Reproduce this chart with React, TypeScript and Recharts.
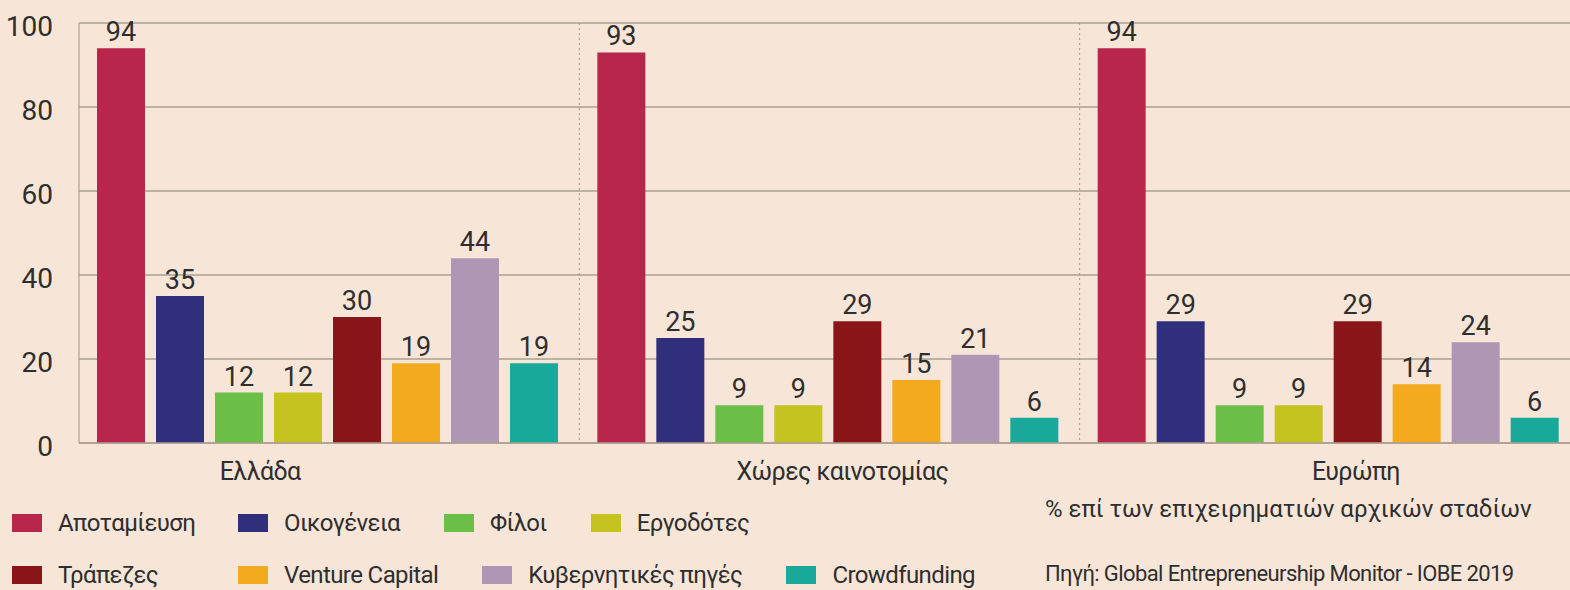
import React from "react";
import {
  BarChart,
  Bar,
  XAxis,
  YAxis,
  CartesianGrid,
  LabelList,
} from "recharts";

// regions compared
const categories = ["Ελλάδα", "Χώρες καινοτομίας", "Ευρώπη"];

// % of early-stage entrepreneurs, one array per funding source
const savings = [94, 93, 94];
const family = [35, 25, 29];
const friends = [12, 9, 9];
const employers = [12, 9, 9];
const banks = [30, 29, 29];
const ventureCapital = [19, 15, 14];
const government = [44, 21, 24];
const crowdfunding = [19, 6, 6];

const yTicks = [0, 20, 40, 60, 80, 100];

const series = [
  { key: "savings", name: "Αποταμίευση", values: savings, color: "#b8264b" },
  { key: "family", name: "Οικογένεια", values: family, color: "#2f2f7c" },
  { key: "friends", name: "Φίλοι", values: friends, color: "#6bbf46" },
  { key: "employers", name: "Εργοδότες", values: employers, color: "#c4c320" },
  { key: "banks", name: "Τράπεζες", values: banks, color: "#8a1519" },
  { key: "vc", name: "Venture Capital", values: ventureCapital, color: "#f4aa1e" },
  { key: "gov", name: "Κυβερνητικές πηγές", values: government, color: "#ad97b5" },
  { key: "crowd", name: "Crowdfunding", values: crowdfunding, color: "#18a99a" },
];

const rows = categories.map((name, i) => {
  const row: Record<string, string | number> = { name };
  series.forEach((s) => (row[s.key] = s.values[i]));
  return row;
});

const FONT = "Roboto, 'Liberation Sans', sans-serif";
const BG = "#f7e6d8";
const GRID = "#ad9f91";
const TEXT = "#2e2e2e";

// the category labels in the original are not centred under their groups
const labelShift: Record<string, number> = {
  "Ελλάδα": -69,
  "Χώρες καινοτομίας": 13,
  "Ευρώπη": 26,
};

function CategoryTick(props: any) {
  const { x, y, payload } = props;
  return (
    <text
      x={x + (labelShift[payload.value] ?? 0)}
      y={y}
      dy={29}
      textAnchor="middle"
      fill={TEXT}
      fontSize={25}
      fontFamily={FONT}
      letterSpacing={-0.6}
    >
      {payload.value}
    </text>
  );
}

function LegendItem({ name, color, first }: { name: string; color: string; first: boolean }) {
  return (
    <div
      style={{
        display: "flex",
        alignItems: "center",
        minWidth: first ? 226 : undefined,
        marginRight: first ? 0 : 44,
      }}
    >
      <span style={{ width: 30, height: 18, background: color, display: "inline-block", marginRight: 16 }} />
      <span>{name}</span>
    </div>
  );
}

export default function App() {
  const legendRows = [series.slice(0, 4), series.slice(4)];
  return (
    <div
      style={{
        position: "fixed",
        left: 0,
        top: 0,
        width: 1570,
        height: 590,
        overflow: "hidden",
        background: BG,
        fontFamily: FONT,
        color: TEXT,
      }}
    >
      <BarChart
        width={1580}
        height={590}
        data={rows}
        margin={{ top: 23, right: 0, left: 0, bottom: 117 }}
        barCategoryGap={18}
        barGap={11}
      >
        <CartesianGrid vertical={false} stroke={GRID} strokeWidth={1.6} />
        <CartesianGrid
          horizontal={false}
          stroke="#9c9690"
          strokeDasharray="2 3"
          verticalCoordinatesGenerator={({ offset }: any) =>
            categories.slice(1).map((_, i) => offset.left + (offset.width * (i + 1)) / categories.length)
          }
        />
        <XAxis
          dataKey="name"
          height={30}
          tickLine={false}
          axisLine={{ stroke: GRID, strokeWidth: 1.6 }}
          tick={<CategoryTick />}
          interval={0}
        />
        <YAxis
          width={79}
          domain={[0, 100]}
          ticks={yTicks}
          tickLine={false}
          axisLine={{ stroke: GRID, strokeWidth: 1.2 }}
          tickMargin={20}
          tick={{ fill: TEXT, fontSize: 28, fontFamily: FONT, dy: 3 }}
        />
        {series.map((s) => (
          <Bar key={s.key} dataKey={s.key} name={s.name} fill={s.color} isAnimationActive={false}>
            <LabelList
              dataKey={s.key}
              position="top"
              offset={7}
              fill={TEXT}
              fontSize={27}
              fontFamily={FONT}
            />
          </Bar>
        ))}
      </BarChart>

      <div
        style={{
          position: "absolute",
          left: 12,
          top: 508,
          fontSize: 24,
          lineHeight: "30px",
          letterSpacing: -0.6,
        }}
      >
        {legendRows.map((row, r) => (
          <div key={r} style={{ display: "flex", marginBottom: r === 0 ? 22 : 0 }}>
            {row.map((s, i) => (
              <LegendItem key={s.key} name={s.name} color={s.color} first={i === 0} />
            ))}
          </div>
        ))}
      </div>

      <div
        style={{
          position: "absolute",
          left: 1045,
          top: 495,
          fontSize: 24,
          letterSpacing: 0,
          whiteSpace: "nowrap",
        }}
      >
        % επί των επιχειρηματιών αρχικών σταδίων
      </div>
      <div
        style={{
          position: "absolute",
          left: 1045,
          top: 561,
          fontSize: 22,
          letterSpacing: -0.6,
          whiteSpace: "nowrap",
        }}
      >
        Πηγή: Global Entrepreneurship Monitor - IOBE 2019
      </div>
    </div>
  );
}
